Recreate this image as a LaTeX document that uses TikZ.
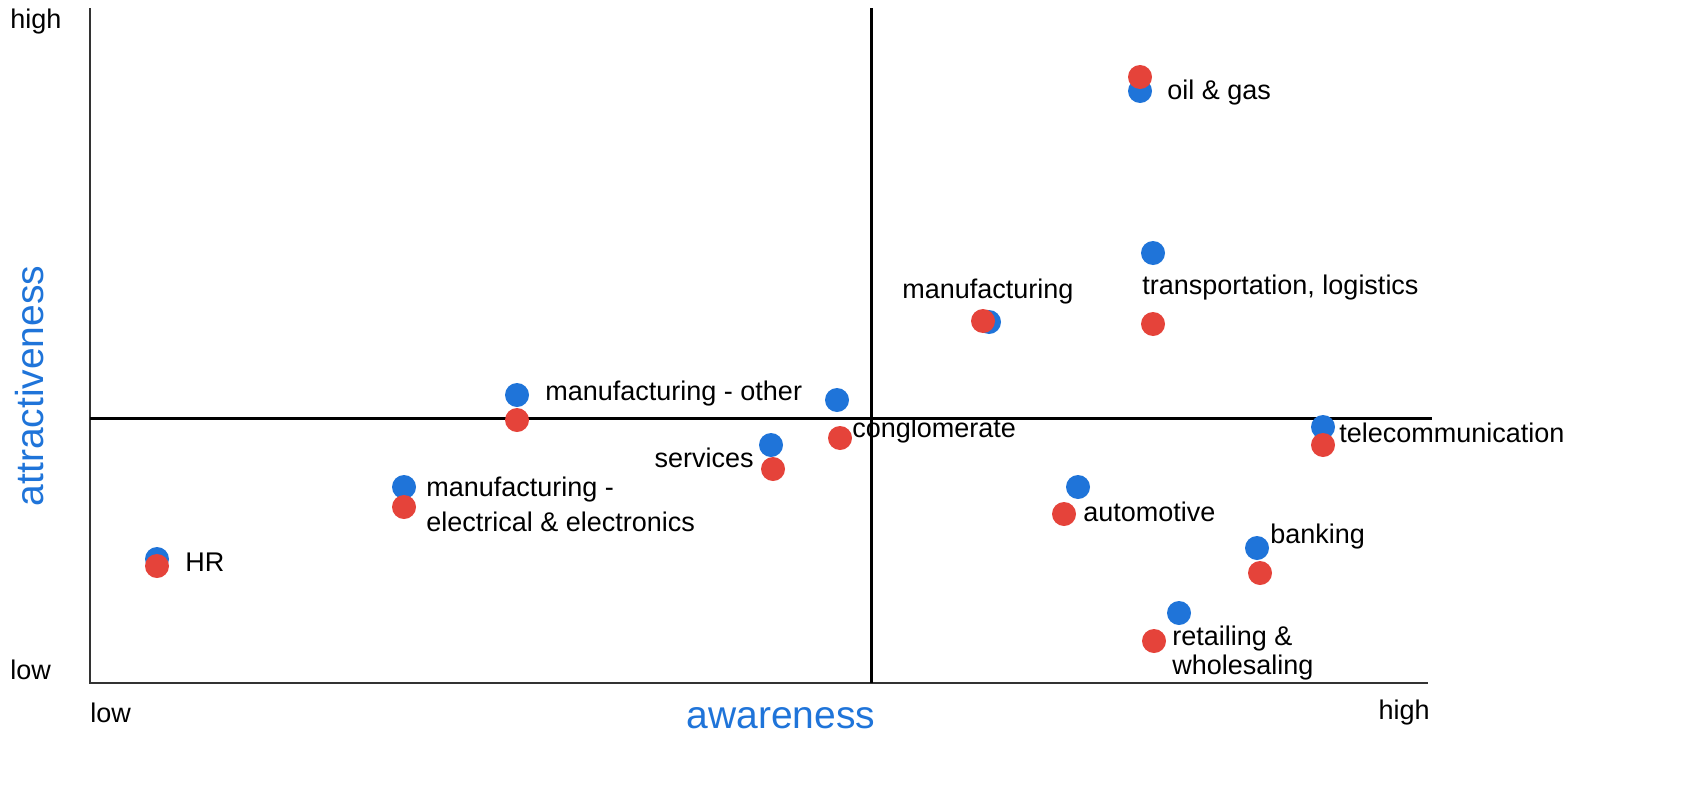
\documentclass[tikz,border=0pt]{standalone}
\usepackage{fontspec}
\setmainfont{Liberation Sans}
\usepackage{tikz}
\definecolor{dotblue}{HTML}{1F74D9}
\definecolor{dotred}{HTML}{E5433A}
\tikzstyle{bdot}=[circle, fill=dotblue, inner sep=0pt, minimum size=12pt]
\tikzstyle{rdot}=[circle, fill=dotred, inner sep=0pt, minimum size=12pt]
\tikzstyle{lbl}=[anchor=west, inner sep=0pt, font=\fontsize{13.5}{16}\selectfont, text=black]
\tikzstyle{axlbl}=[inner sep=0pt, font=\fontsize{19.5}{22}\selectfont, text=dotblue]

\begin{document}
\begin{tikzpicture}[x=0.5pt, y=-0.5pt]
                \useasboundingbox (0,0) rectangle (1690,787);
                \coordinate (o) at (90, 683);
                \coordinate (top) at (90, 8);
                \coordinate (right) at (1428, 683);
                \coordinate (mt) at (871, 8);
                \coordinate (mb) at (871, 683);
                \coordinate (ml) at (90, 418);
                \coordinate (mr) at (1432, 418);
                \draw[line width=1pt, black!80]  (top)--(o)--(right);
                \draw[line width=1.5pt]  (mt)--(mb);
                \draw[line width=1.5pt]  (ml)--(mr);
                \node[lbl] (yhigh) at (10, 22) {high};
                \node[lbl] (ylow) at (10, 670) {low};
                \node[lbl] (xlow) at (90, 713) {low};
                \node[lbl, anchor=east] (xhigh) at (1430, 713) {high};
                \node[axlbl] (xname) at (781, 718) {awareness};
                \node[axlbl, rotate=90] (yname) at (30, 386) {attractiveness};
                % blue dots
                \node[bdot] (b1) at (1140, 91) {};
                \node[bdot] (b2) at (1153, 253) {};
                \node[bdot] (b3) at (989, 322) {};
                \node[bdot] (b4) at (517, 395) {};
                \node[bdot] (b5) at (837, 400) {};
                \node[bdot] (b6) at (771, 445) {};
                \node[bdot] (b7) at (404, 487) {};
                \node[bdot] (b8) at (157, 559) {};
                \node[bdot] (b9) at (1323, 427) {};
                \node[bdot] (b10) at (1078, 487) {};
                \node[bdot] (b11) at (1257, 548) {};
                \node[bdot] (b12) at (1179, 613) {};
                % red dots
                \node[rdot] (r1) at (1140, 77) {};
                \node[rdot] (r2) at (1153, 324) {};
                \node[rdot] (r3) at (983, 321) {};
                \node[rdot] (r4) at (517, 420) {};
                \node[rdot] (r5) at (840, 438) {};
                \node[rdot] (r6) at (773, 469) {};
                \node[rdot] (r7) at (404, 507) {};
                \node[rdot] (r8) at (157, 566) {};
                \node[rdot] (r9) at (1323, 445) {};
                \node[rdot] (r10) at (1064, 514) {};
                \node[rdot] (r11) at (1260, 573) {};
                \node[rdot] (r12) at (1154, 641) {};
                % labels
                \node[lbl] (l1) at (1167, 93) {oil \& gas};
                \node[lbl] (l2) at (1142, 288) {transportation, logistics};
                \node[lbl] (l3) at (902, 292) {manufacturing};
                \node[lbl] (l4) at (545, 394) {manufacturing - other};
                \node[lbl] (l5) at (852, 431) {conglomerate};
                \node[lbl, anchor=east] (l6) at (754, 458) {services};
                \node[lbl] (l7a) at (426, 490) {manufacturing -};
                \node[lbl] (l7b) at (426, 522) {electrical \& electronics};
                \node[lbl] (l8) at (185, 562) {HR};
                \node[lbl] (l9) at (1339, 433) {telecommunication};
                \node[lbl] (l10) at (1083, 512) {automotive};
                \node[lbl] (l11) at (1270, 537) {banking};
                \node[lbl] (l12a) at (1172, 639) {retailing \&};
                \node[lbl] (l12b) at (1172, 668) {wholesaling};
            \end{tikzpicture}
\end{document}
